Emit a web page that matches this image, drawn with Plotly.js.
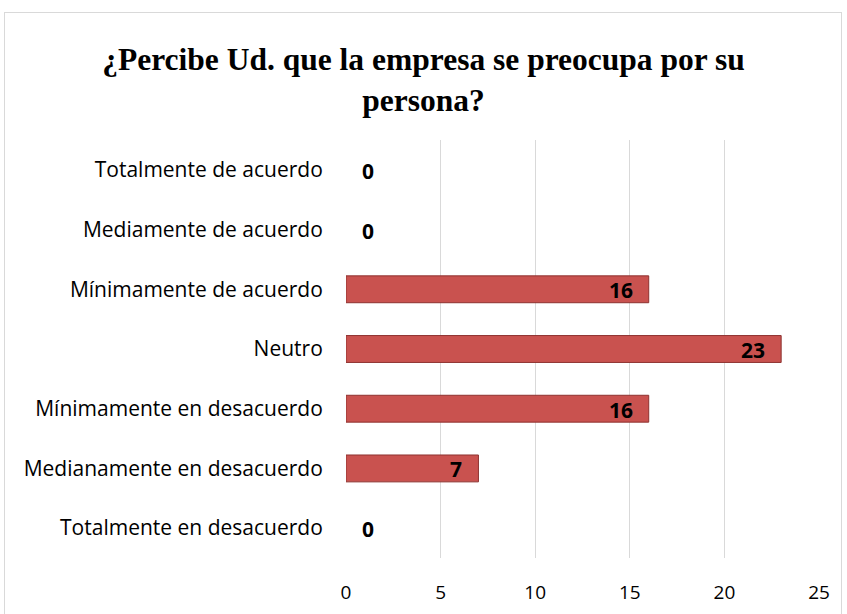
<!DOCTYPE html>
<html>
<head>
<meta charset="utf-8">
<script src="https://cdn.plot.ly/plotly-3.0.1.min.js"></script>
<style>
  html, body { margin: 0; padding: 0; background: #fff; }
  #frame { position: absolute; left: 4px; top: 12px; width: 838px; height: 620px; border: 1px solid #d9d9d9; box-sizing: border-box; }
  #chart { position: absolute; left: 0; top: 0; width: 847px; height: 614px; }
</style>
</head>
<body>
<div id="frame"></div>
<div id="chart"></div>
<script>
const categories = [
  "Totalmente de acuerdo",
  "Mediamente de acuerdo",
  "Mínimamente de acuerdo",
  "Neutro",
  "Mínimamente en desacuerdo",
  "Medianamente en desacuerdo",
  "Totalmente en desacuerdo"
];
const values = [0, 0, 16, 23, 16, 7, 0];
const xTicks = [0, 5, 10, 15, 20, 25];
const titleText = "¿Percibe Ud. que la empresa se preocupa por su<br>persona?";

const labelFont = { family: "Open Sans, sans-serif", size: 21, color: "#000", weight: "bold" };

const annotations = values.map((v, i) => ({
  x: v, y: categories[i], xref: "x", yref: "y",
  text: "<b>" + v + "</b>",
  showarrow: false,
  xanchor: v > 0 ? "right" : "left",
  xshift: v > 0 ? -14 : 14,
  yshift: -1,
  font: labelFont
}));

const trace = {
  type: "bar",
  orientation: "h",
  x: values,
  y: categories,
  marker: {
    color: "#C9524F",
    line: { color: "#8E3230", width: values.map(v => v > 0 ? 1 : 0) }
  },
  hoverinfo: "none"
};

const layout = {
  width: 847, height: 614,
  paper_bgcolor: "rgba(0,0,0,0)",
  plot_bgcolor: "rgba(0,0,0,0)",
  margin: { l: 346, r: 28, t: 140, b: 56 },
  showlegend: false,
  bargap: 0.55,
  title: {
    text: titleText,
    font: { family: "Liberation Serif, Times New Roman, serif", size: 31.5, color: "#000", weight: "bold" },
    x: 0.5, xref: "container", xanchor: "center",
    y: 0.886, yref: "container", yanchor: "middle"
  },
  xaxis: {
    range: [0, 25],
    tickvals: xTicks,
    showgrid: true, gridcolor: "#d9d9d9", gridwidth: 1.3,
    zeroline: false, showline: false,
    ticks: "outside", ticklen: 17, tickcolor: "rgba(0,0,0,0)",
    tickfont: { family: "Open Sans, sans-serif", size: 19, color: "#000" },
    fixedrange: true
  },
  yaxis: {
    type: "category",
    autorange: "reversed",
    showgrid: false, zeroline: false, showline: false,
    ticks: "outside", ticklen: 18, tickcolor: "rgba(0,0,0,0)",
    tickfont: { family: "Open Sans, sans-serif", size: 21, color: "#000" },
    fixedrange: true
  },
  annotations: annotations
};

Plotly.newPlot("chart", [trace], layout, { displayModeBar: false, staticPlot: true });
</script>
</body>
</html>
